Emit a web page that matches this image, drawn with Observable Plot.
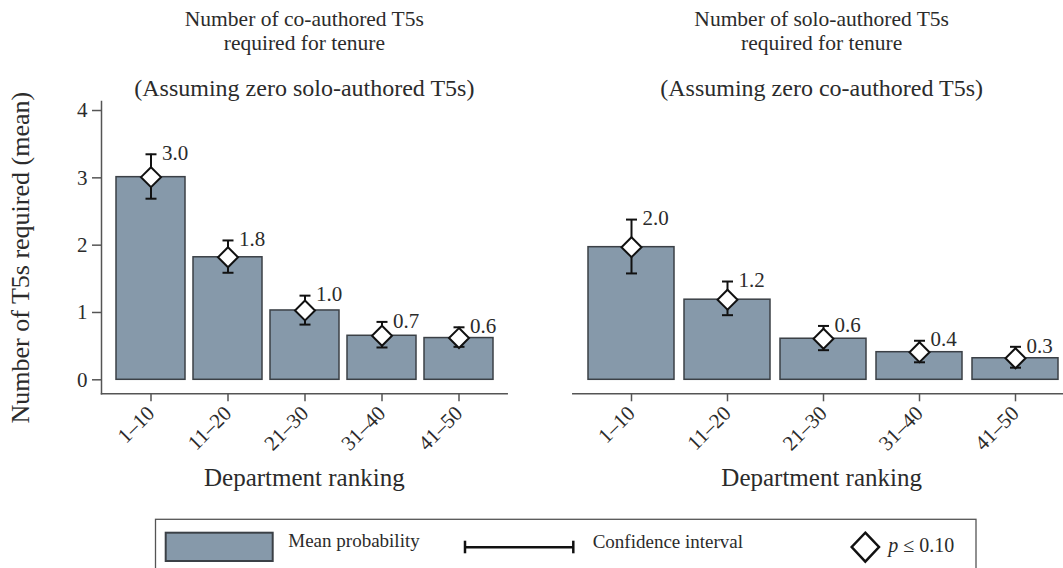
<!DOCTYPE html>
<html>
<head>
<meta charset="utf-8">
<script src="https://cdn.jsdelivr.net/npm/d3@7"></script>
<script src="https://cdn.jsdelivr.net/npm/@observablehq/plot@0.6"></script>
<style>
  html, body { margin: 0; padding: 0; background: #fff; }
  body { width: 1063px; height: 568px; position: relative; overflow: hidden;
         font-family: "Liberation Serif", "DejaVu Serif", serif; color: #2b2b2b; }
  .panel { position: absolute; top: 0; }
  .panel svg { max-width: none !important; }
  svg text { font-family: "Liberation Serif", "DejaVu Serif", serif !important; }
  #legend { position: absolute; left: 0; top: 505px; }
</style>
</head>
<body>
<div id="left" class="panel" style="left:0px;width:530px"></div>
<div id="right" class="panel" style="left:530px;width:545px"></div>
<svg id="legend" width="1063" height="70"></svg>
<script>
// Department ranking groups
const rankings = ["1–10", "11–20", "21–30", "31–40", "41–50"];

// Co-authored T5s required (assuming zero solo-authored): mean and confidence bounds
const coMean = [3.01, 1.82, 1.03, 0.654, 0.62];
const coLow  = [2.69, 1.59, 0.82, 0.48, 0.49];
const coHigh = [3.35, 2.07, 1.25, 0.86, 0.78];

// Solo-authored T5s required (assuming zero co-authored): mean and confidence bounds
const soloMean = [1.97, 1.19, 0.61, 0.41, 0.32];
const soloLow  = [1.58, 0.96, 0.44, 0.26, 0.18];
const soloHigh = [2.38, 1.46, 0.80, 0.58, 0.49];

const yTicks = [0, 1, 2, 3, 4];

const barFill = "#8699aa";
const barStroke = "#3b4046";
const ink = "#111";
const axisColor = "#555";
const textColor = "#2b2b2b";
const font = "Liberation Serif";

const rows = (mean, low, high) =>
  rankings.map((r, i) => ({rank: r, mean: mean[i], low: low[i], high: high[i]}));

// Horizontal cap used at the top and bottom of each confidence interval
const cap = {
  draw(context, size) {
    const r = Math.sqrt(size / Math.PI);
    context.moveTo(-r, 0);
    context.lineTo(r, 0);
  }
};

function panel({data, title, subtitle, showY, width, height, marginLeft, marginRight, insetLeft, insetRight}) {
  const [line1, line2] = title;
  const marks = [
    Plot.barY(data, {x: "rank", y: "mean", fill: barFill, stroke: barStroke, strokeWidth: 1.5}),
    Plot.ruleX(data, {x: "rank", y1: "low", y2: "high", stroke: ink, strokeWidth: 2}),
    Plot.dot(data, {x: "rank", y: "high", symbol: cap, r: 5.5, stroke: ink, strokeWidth: 2}),
    Plot.dot(data, {x: "rank", y: "low", symbol: cap, r: 5.5, stroke: ink, strokeWidth: 2}),
    Plot.dot(data, {x: "rank", y: "mean", symbol: "diamond2", r: 9, fill: "white", stroke: ink, strokeWidth: 2}),
    Plot.text(data, {x: "rank", y: "high", text: d => d.mean.toFixed(1), dx: 11, dy: -1,
      textAnchor: "start", lineAnchor: "middle", fontSize: 21, fill: textColor}),
    Plot.frame({anchor: "bottom", stroke: axisColor, strokeWidth: 1.5}),
    Plot.axisX({tickSize: 8, tickRotate: -45, tickPadding: 8, fontSize: 21, label: null,
      stroke: axisColor, strokeWidth: 1.5, fill: textColor}),
    Plot.text([line1], {frameAnchor: "top", dy: -76, lineAnchor: "bottom",
      fontSize: 21.5, fill: textColor}),
    Plot.text([line2], {frameAnchor: "top", dy: -52, lineAnchor: "bottom",
      fontSize: 21.5, fill: textColor}),
    Plot.text([subtitle], {frameAnchor: "top", dy: -6, lineAnchor: "bottom",
      fontSize: 24, fill: textColor}),
    Plot.text(["Department ranking"], {frameAnchor: "bottom", dy: 91.7, lineAnchor: "bottom",
      fontSize: 25, fill: textColor})
  ];
  if (showY) {
    marks.push(
      Plot.frame({anchor: "left", stroke: axisColor, strokeWidth: 1.5}),
      Plot.axisY({ticks: yTicks, tickFormat: d3.format("d"), tickSize: 9, tickPadding: 5,
        fontSize: 21, label: null, stroke: axisColor, strokeWidth: 1.5, fill: textColor}),
      Plot.text(["Number of T5s required (mean)"], {frameAnchor: "left", rotate: -90,
        dx: -81, dy: 10, textAnchor: "middle", lineAnchor: "middle",
        fontSize: 26, fill: textColor})
    );
  }
  return Plot.plot({
    width, height,
    marginTop: 101,
    marginBottom: height - 393.3,
    marginLeft, marginRight,
    style: {fontFamily: font, background: "transparent", overflow: "visible", maxWidth: "none"},
    x: {domain: rankings, paddingInner: 0.1, paddingOuter: 0.05, insetLeft, insetRight, axis: null},
    y: {domain: [0, 4.134], insetBottom: 14, axis: null},
    marks
  });
}

document.getElementById("left").append(panel({
  data: rows(coMean, coLow, coHigh),
  title: ["Number of co-authored T5s", "required for tenure"],
  subtitle: "(Assuming zero solo-authored T5s)",
  showY: true,
  width: 530, height: 510,
  marginLeft: 101, marginRight: 23.3,
  insetLeft: 10.3, insetRight: 8.4
}));

document.getElementById("right").append(panel({
  data: rows(soloMean, soloLow, soloHigh),
  title: ["Number of solo-authored T5s", "required for tenure"],
  subtitle: "(Assuming zero co-authored T5s)",
  showY: false,
  width: 545, height: 510,
  marginLeft: 42.3, marginRight: 5,
  insetLeft: 8.7, insetRight: 5.5
}));

// Legend box below both panels
const lg = d3.select("#legend");
lg.append("rect").attr("x", 155.5).attr("y", 14.3).attr("width", 820.5).attr("height", 80)
  .attr("fill", "none").attr("stroke", axisColor).attr("stroke-width", 1.3);
lg.append("rect").attr("x", 165.7).attr("y", 27.7).attr("width", 107).attr("height", 28.3)
  .attr("fill", barFill).attr("stroke", barStroke).attr("stroke-width", 2);
lg.append("text").attr("x", 288.3).attr("y", 42.3).attr("font-size", 19).attr("fill", textColor)
  .text("Mean probability");
const eb = lg.append("g").attr("stroke", ink).attr("stroke-width", 2.5);
eb.append("line").attr("x1", 465).attr("x2", 573.3).attr("y1", 42.3).attr("y2", 42.3);
eb.append("line").attr("x1", 465).attr("x2", 465).attr("y1", 35.7).attr("y2", 48.3);
eb.append("line").attr("x1", 573.3).attr("x2", 573.3).attr("y1", 35.7).attr("y2", 48.3);
lg.append("text").attr("x", 592.7).attr("y", 43.3).attr("font-size", 19).attr("fill", textColor)
  .text("Confidence interval");
lg.append("path").attr("d", "M865.3,27.7L879,42L865.3,56.7L851.7,42Z")
  .attr("fill", "white").attr("stroke", ink).attr("stroke-width", 2.5);
const pt = lg.append("text").attr("x", 888.3).attr("y", 46.7).attr("font-size", 20)
  .attr("fill", textColor);
pt.append("tspan").attr("font-style", "italic").text("p");
pt.append("tspan").text(" ≤ 0.10");
</script>
</body>
</html>
